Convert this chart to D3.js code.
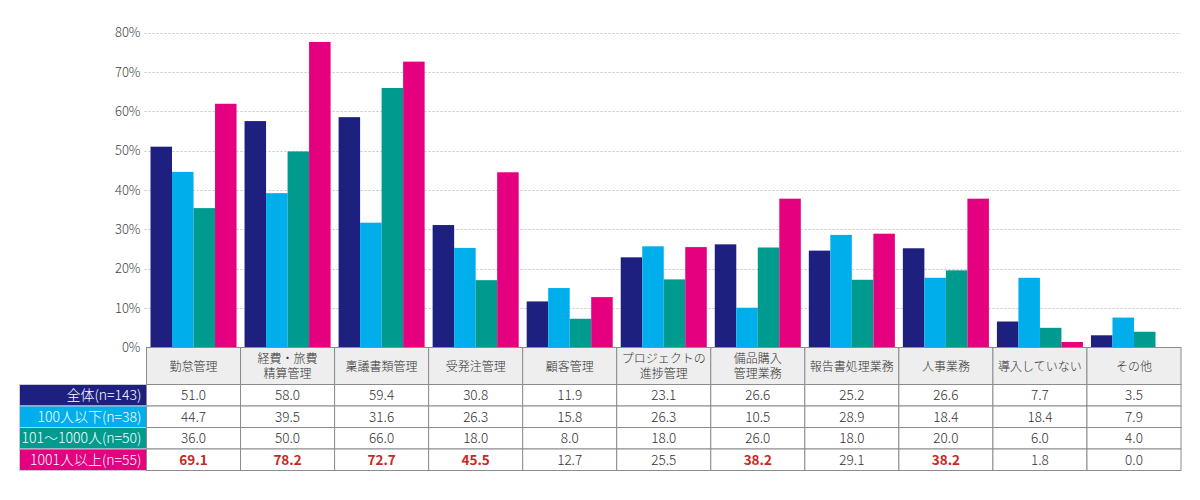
<!DOCTYPE html>
<html>
<head>
<meta charset="utf-8">
<script src="https://cdn.jsdelivr.net/npm/d3@7/dist/d3.min.js"></script>
<style>
  html, body { margin: 0; padding: 0; background: #fff; }
  svg { display: block; font-family: "Noto Sans CJK JP", "Noto Sans", sans-serif; }
</style>
</head>
<body>
<svg id="chart" width="1200" height="500"></svg>
<script>
// ---- data ----
const categories = ["勤怠管理", "経費・旅費\n精算管理", "稟議書類管理", "受発注管理", "顧客管理",
  "プロジェクトの\n進捗管理", "備品購入\n管理業務", "報告書処理業務", "人事業務", "導入していない", "その他"];
const seriesNames = ["全体(n=143)", "100人以下(n=38)", "101〜1000人(n=50)", "1001人以上(n=55)"];
const seriesColors = ["#1e2080", "#00aeeb", "#009b8f", "#e4007f"];

// bar heights as drawn in the chart (%)
const barAll   = [51.0, 57.5, 58.5, 31.1, 11.7, 22.9, 26.2, 24.6, 25.2, 6.6, 3.1];
const bar100   = [44.6, 39.2, 31.7, 25.3, 15.1, 25.7, 10.1, 28.6, 17.7, 17.7, 7.6];
const bar1000  = [35.4, 49.8, 65.9, 17.1, 7.3, 17.3, 25.4, 17.2, 19.6, 5.0, 4.0];
const barOver  = [61.9, 77.6, 72.6, 44.5, 12.8, 25.5, 37.8, 28.9, 37.8, 1.4, 0.0];

// table values as printed
const tblAll   = ["51.0", "58.0", "59.4", "30.8", "11.9", "23.1", "26.6", "25.2", "26.6", "7.7", "3.5"];
const tbl100   = ["44.7", "39.5", "31.6", "26.3", "15.8", "26.3", "10.5", "28.9", "18.4", "18.4", "7.9"];
const tbl1000  = ["36.0", "50.0", "66.0", "18.0", "8.0", "18.0", "26.0", "18.0", "20.0", "6.0", "4.0"];
const tblOver  = ["69.1", "78.2", "72.7", "45.5", "12.7", "25.5", "38.2", "29.1", "38.2", "1.8", "0.0"];
// highlighted (bold red) cells in the last row
const highlightOver = [true, true, true, true, false, false, true, false, true, false, false];

const yTicks = [0, 10, 20, 30, 40, 50, 60, 70, 80];

const barSeries = [barAll, bar100, bar1000, barOver];
const tblSeries = [tblAll, tbl100, tbl1000, tblOver];

// ---- layout ----
const svg = d3.select("#chart");
const plotLeft = 146.5, plotRight = 1181, plotTop = 32.5, plotBottom = 347.5;
const rowHeaderLeft = 19.5;
const headerBottom = 384.5;
const rowH = 21.5;

const x = d3.scaleBand().domain(d3.range(categories.length)).range([plotLeft, plotRight]).paddingInner(0).paddingOuter(0);
const xs = d3.scaleBand().domain(d3.range(4)).range([4, x.bandwidth() - 4]).padding(0);
const y = d3.scaleLinear().domain([0, 80]).range([plotBottom, plotTop]);

// gridlines
svg.append("g").selectAll("line").data(yTicks.filter(d => d > 0)).join("line")
  .attr("x1", plotLeft - 2).attr("x2", plotRight)
  .attr("y1", d => Math.round(y(d)) + 0.5).attr("y2", d => Math.round(y(d)) + 0.5)
  .attr("stroke", "#c4c4c4").attr("stroke-width", 1).attr("stroke-dasharray", "2,2");

// y axis labels
const yAxis = d3.axisLeft(y).tickValues(yTicks).tickFormat(d => d + "%").tickSize(0).tickPadding(6);
const ya = svg.append("g").attr("transform", `translate(${plotLeft},0)`).call(yAxis);
ya.select(".domain").remove();
ya.selectAll("text").attr("font-size", 13).attr("fill", "#444").attr("font-family", "\"Noto Sans CJK JP\", sans-serif").attr("font-weight", 300);

// bars
const groups = svg.append("g").selectAll("g").data(categories.map((c, i) => i)).join("g")
  .attr("transform", i => `translate(${x(i)},0)`);
groups.selectAll("rect").data(i => barSeries.map((s, k) => ({ k, v: s[i] }))).join("rect")
  .attr("x", d => xs(d.k))
  .attr("width", xs.bandwidth())
  .attr("y", d => y(d.v))
  .attr("height", d => plotBottom - y(d.v))
  .attr("fill", d => seriesColors[d.k]);

// table header row
const tbl = svg.append("g");
tbl.selectAll("rect.hdr").data(categories.map((c, i) => i)).join("rect")
  .attr("class", "hdr")
  .attr("x", i => x(i)).attr("y", plotBottom)
  .attr("width", x.bandwidth()).attr("height", headerBottom - plotBottom)
  .attr("fill", "#eeeeee").attr("stroke", "#8c8c8c").attr("stroke-width", 1);

tbl.selectAll("text.hdr").data(categories.map((c, i) => i)).join("text")
  .attr("class", "hdr")
  .attr("x", i => x(i) + x.bandwidth() / 2)
  .attr("text-anchor", "middle")
  .attr("font-size", 12).attr("fill", "#333").attr("font-weight", 300)
  .each(function (i) {
    const lines = categories[i].split("\n");
    const mid = (plotBottom + headerBottom) / 2;
    const lh = 15;
    const t = d3.select(this);
    lines.forEach((ln, j) => {
      t.append("tspan").attr("x", x(i) + x.bandwidth() / 2)
        .attr("y", mid + (j - (lines.length - 1) / 2) * lh + 4.5)
        .text(ln);
    });
  });

// data rows
seriesNames.forEach((name, r) => {
  const top = headerBottom + r * rowH;
  // row header cell
  tbl.append("rect").attr("x", rowHeaderLeft).attr("y", top)
    .attr("width", plotLeft - rowHeaderLeft).attr("height", rowH)
    .attr("fill", seriesColors[r]).attr("stroke", "#c8c8d8").attr("stroke-width", 1);
  tbl.append("text").attr("x", plotLeft - 5).attr("y", top + rowH / 2 + 5)
    .attr("text-anchor", "end").attr("font-size", 14).attr("fill", "#fff").attr("font-weight", 300)
    .text(name);
  // value cells
  tbl.append("g").selectAll("rect").data(categories.map((c, i) => i)).join("rect")
    .attr("x", i => x(i)).attr("y", top)
    .attr("width", x.bandwidth()).attr("height", rowH)
    .attr("fill", "#fff").attr("stroke", "#8c8c8c").attr("stroke-width", 1);
  tbl.append("g").selectAll("text").data(categories.map((c, i) => i)).join("text")
    .attr("x", i => x(i) + x.bandwidth() / 2)
    .attr("y", top + rowH / 2 + 5)
    .attr("text-anchor", "middle")
    .attr("font-size", 13.5)
    .attr("font-weight", i => (r === 3 && highlightOver[i]) ? 700 : 300)
    .attr("fill", i => (r === 3 && highlightOver[i]) ? "#c8281e" : "#333")
    .text(i => tblSeries[r][i]);
});
</script>
</body>
</html>
